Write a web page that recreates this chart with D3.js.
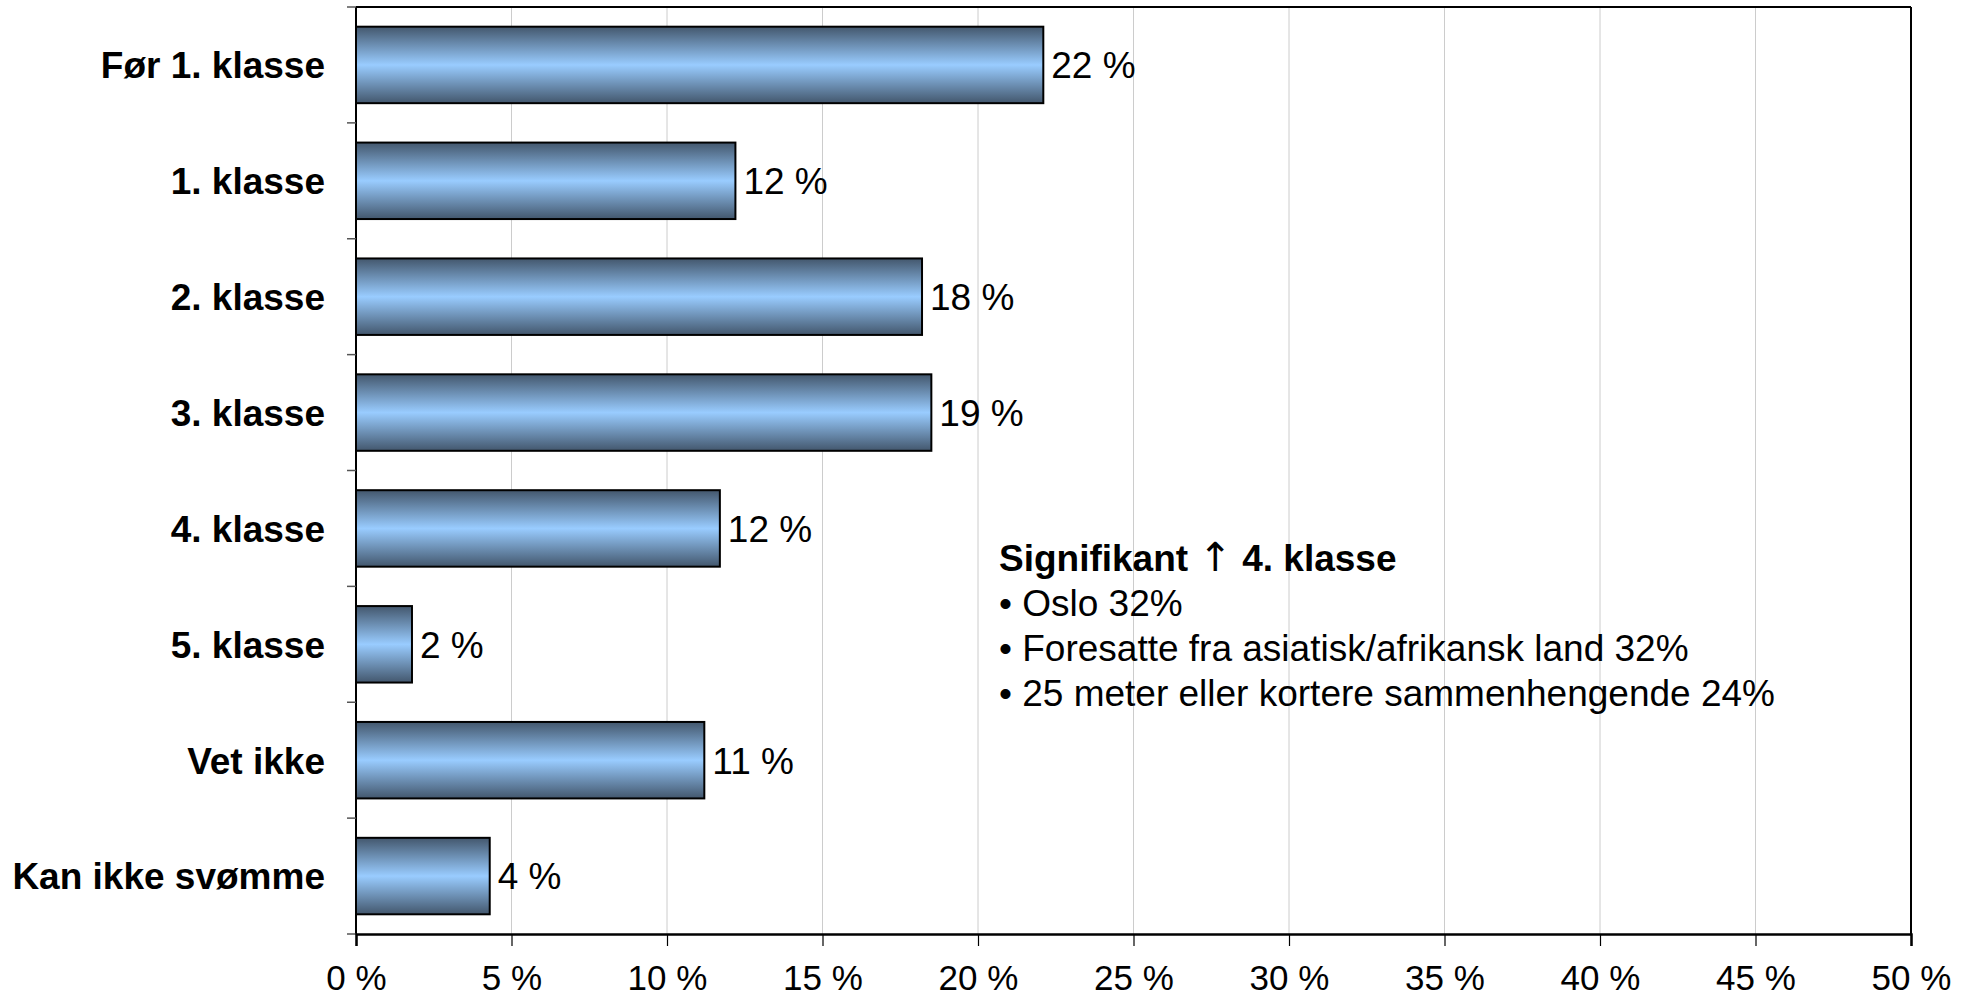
<!DOCTYPE html>
<html><head><meta charset="utf-8">
<script src="https://cdn.jsdelivr.net/npm/d3@7"></script>
<style>html,body{margin:0;padding:0;background:#fff;}svg{display:block;font-family:"Liberation Sans",Arial,sans-serif;}</style>
</head><body>
<svg id="c" width="1970" height="996"></svg>
<script>
const categories = ["Før 1. klasse","1. klasse","2. klasse","3. klasse","4. klasse","5. klasse","Vet ikke","Kan ikke svømme"];
const values = [22.1, 12.2, 18.2, 18.5, 11.7, 1.8, 11.2, 4.3];
const valueLabels = ["22 %","12 %","18 %","19 %","12 %","2 %","11 %","4 %"];
const xTicks = [0,5,10,15,20,25,30,35,40,45,50];
const noteTitle = "Signifikant";
const noteTitleRest = "4. klasse";
const noteLines = ["• Oslo 32%","• Foresatte fra asiatisk/afrikansk land 32%","• 25 meter eller kortere sammenhengende 24%"];

const svg = d3.select("#c");
const L = 356, R = 1911, T = 7, B = 934;
const x = d3.scaleLinear().domain([0,50]).range([L,R]);
const y = d3.scaleBand().domain(categories).range([T,B]).paddingInner(0.34).paddingOuter(0.17);

const defs = svg.append("defs");
const g = defs.append("linearGradient").attr("id","bg").attr("x1",0).attr("x2",0).attr("y1",0).attr("y2",1);
g.append("stop").attr("offset","0%").attr("stop-color","#43576d");
g.append("stop").attr("offset","50%").attr("stop-color","#99ccff");
g.append("stop").attr("offset","100%").attr("stop-color","#43576d");

// gridlines
svg.append("g").selectAll("line").data(xTicks.filter(d=>d>0&&d<50)).join("line")
  .attr("x1",d=>x(d)).attr("x2",d=>x(d)).attr("y1",T).attr("y2",B)
  .attr("stroke","#cccccc").attr("stroke-width",1);

// frame top/right
svg.append("line").attr("x1",L).attr("x2",R).attr("y1",T).attr("y2",T).attr("stroke","#000").attr("stroke-width",2);
svg.append("line").attr("x1",R).attr("x2",R).attr("y1",T).attr("y2",B).attr("stroke","#000").attr("stroke-width",2);

// bars
svg.append("g").selectAll("rect").data(categories).join("rect")
  .attr("x",x(0)).attr("y",d=>y(d))
  .attr("width",(d,i)=>x(values[i])-x(0)).attr("height",y.bandwidth())
  .attr("fill","url(#bg)").attr("stroke","#000").attr("stroke-width",2);

// value labels
svg.append("g").selectAll("text").data(categories).join("text")
  .attr("x",(d,i)=>x(values[i])+8).attr("y",d=>y(d)+y.bandwidth()/2)
  .attr("dy","0.36em").attr("font-size",37).attr("fill","#000")
  .text((d,i)=>valueLabels[i]);

// y axis
const yStep = (B-T)/categories.length;
const yAx = svg.append("g");
yAx.append("line").attr("x1",L).attr("x2",L).attr("y1",T).attr("y2",B).attr("stroke","#000").attr("stroke-width",2);
yAx.selectAll("line.t").data(d3.range(categories.length+1)).join("line").attr("class","t")
  .attr("x1",L-9).attr("x2",L).attr("y1",i=>T+i*yStep).attr("y2",i=>T+i*yStep)
  .attr("stroke","#555").attr("stroke-width",1.5);
yAx.selectAll("text").data(categories).join("text")
  .attr("x",325).attr("y",d=>y(d)+y.bandwidth()/2).attr("dy","0.36em")
  .attr("text-anchor","end").attr("font-weight","bold").attr("font-size",37).text(d=>d);

// x axis
const xAx = svg.append("g").attr("transform",`translate(0,${B})`)
  .call(d3.axisBottom(x).tickValues(xTicks).tickFormat(d=>d+" %").tickSize(12).tickPadding(19));
xAx.select(".domain").attr("stroke","#000").attr("stroke-width",2.5);
xAx.selectAll(".tick line").attr("stroke","#000").attr("stroke-width",1.2);
xAx.selectAll("text").attr("font-size",35).attr("font-family","'Liberation Sans',Arial,sans-serif").attr("fill","#000");

// annotation
const nx = 999;
const t0 = svg.append("text").attr("x",nx).attr("y",571).attr("font-size",37).attr("font-weight","bold");
t0.append("tspan").text(noteTitle+" ");
t0.append("tspan").attr("font-weight","normal").attr("font-family","'DejaVu Sans'").attr("font-size",40).text("↑");
t0.append("tspan").text(" "+noteTitleRest);
svg.append("g").selectAll("text").data(noteLines).join("text")
  .attr("x",nx).attr("y",(d,i)=>616+i*45).attr("font-size",37).text(d=>d);
</script>
</body></html>
